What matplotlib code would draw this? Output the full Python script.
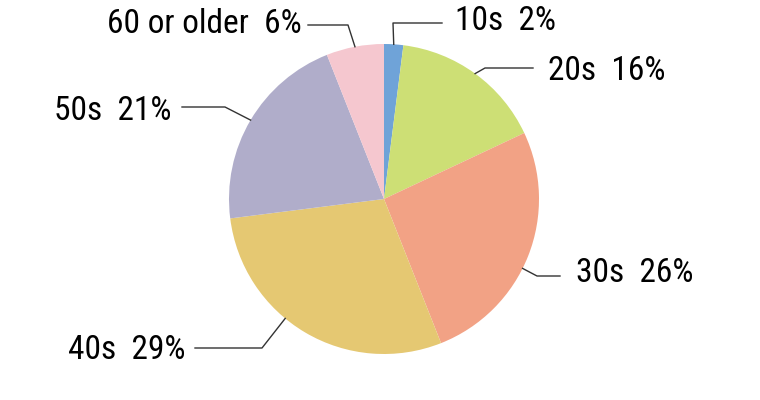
import numpy as np
import matplotlib.pyplot as plt

ages = ['10s', '20s', '30s', '40s', '50s', '60 or older']
shares = [2, 16, 26, 29, 21, 6]
colors = ['#6FA3D8', '#CDDF75', '#F2A285', '#E5C872', '#B0ADCA', '#F5C7CF']

plt.rcParams['font.family'] = ['Roboto Condensed', 'DejaVu Sans']

W, H = 760, 400
cx, cy, r = 384, 199, 155   # pie centre / radius in pixels

fig = plt.figure(figsize=(W / 100, H / 100), dpi=100)
ax = fig.add_axes([(cx - r) / W, (H - cy - r) / H, 2 * r / W, 2 * r / H])
ax.pie(shares, colors=colors, startangle=90, counterclock=False, radius=1,
       wedgeprops=dict(linewidth=0))
ax.set_xlim(-1, 1)
ax.set_ylim(-1, 1)
ax.set_aspect('equal')
ax.axis('off')


def px(x, y):
    # pixel -> data coords of the pie axes
    return (x - cx) / r, (cy - y) / r


# angle nudge (deg), elbow, end of horizontal line, text anchor (pixels), side
layout = [
    (0, (393, 23), (442, 23), (455, 21), 'left'),
    (0, (485, 68), (533, 68), (548, 71), 'left'),
    (5, (537, 276), (560, 276), (576, 273), 'left'),
    (9, (262, 348), (195, 348), (186, 350), 'right'),
    (0, (225, 107), (182, 107), (171, 111), 'right'),
    (0, (348, 25), (308, 25), (302, 24), 'right'),
]

cum = np.cumsum([0] + shares[:-1])
for i, (age, s) in enumerate(zip(ages, shares)):
    nudge, (ex, ey), (hx, hy), (tx, ty), ha = layout[i]
    mid = np.deg2rad((cum[i] + s / 2) / sum(shares) * 360 + nudge)
    x0, y0 = np.sin(mid), np.cos(mid)
    x1, y1 = px(ex, ey)
    x2, y2 = px(hx, hy)
    ax.plot([x0, x1, x2], [y0, y1, y2], color='#333333', lw=1, clip_on=False)
    t1, t2 = px(tx, ty)
    ax.text(t1, t2, f'{age}  {s}%', ha=ha, va='center', fontsize=24, color='black')

fig.savefig('out.png', dpi=100)
